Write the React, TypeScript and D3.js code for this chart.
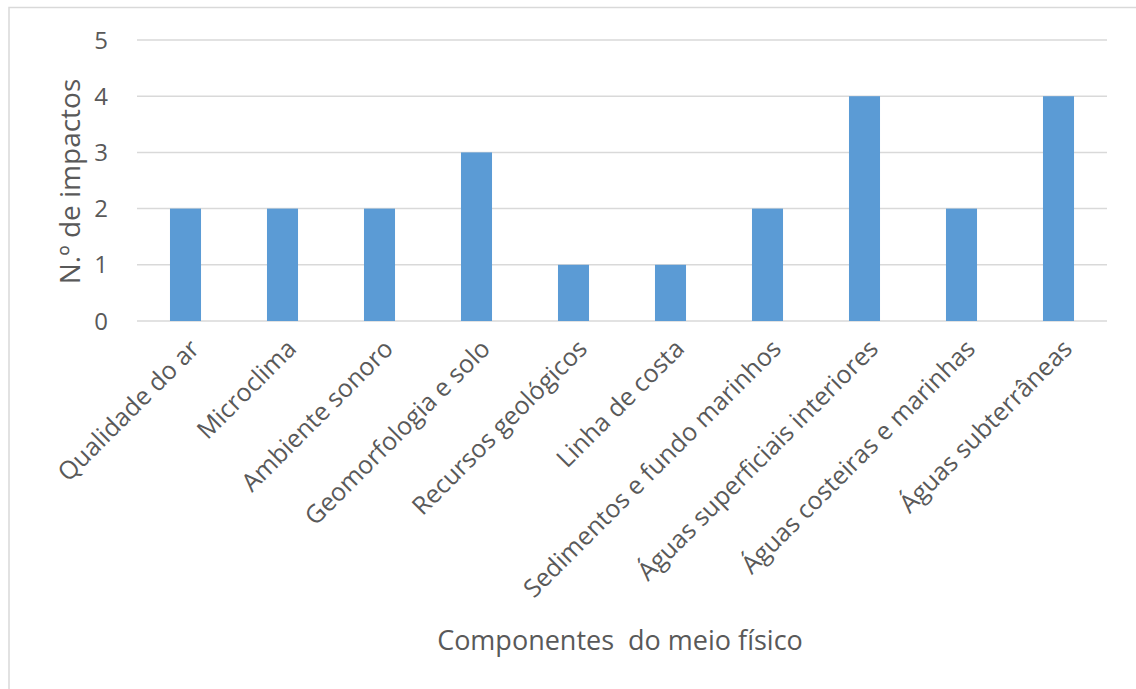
import React from "react";
import * as d3 from "d3";

const categories = [
  "Qualidade do ar",
  "Microclima",
  "Ambiente sonoro",
  "Geomorfologia e solo",
  "Recursos geológicos",
  "Linha de costa",
  "Sedimentos e fundo marinhos",
  "Águas superficiais interiores",
  "Águas costeiras e marinhas",
  "Águas subterrâneas",
];
const values = [2, 2, 2, 3, 1, 1, 2, 4, 2, 4];
const yTicks = [0, 1, 2, 3, 4, 5];
const yTitle = "N.º de impactos";
const xTitle = "Componentes  do meio físico";

const W = 1136;
const H = 689;
const left = 137;
const right = 1107;
const top = 40;
const bottom = 321;
const font = "'Open Sans', sans-serif";
const textColor = "#595959";

export default function App() {
  const x = d3.scaleBand<string>().domain(categories).range([left, right]).paddingInner(0).paddingOuter(0);
  const y = d3.scaleLinear().domain([0, 5]).range([bottom, top]);
  const bw = x.bandwidth() * 0.32;
  return (
    <svg width={W} height={H} style={{ position: "absolute", left: 0, top: 0 }}>
      <rect x={0} y={0} width={W} height={H} fill="#fff" />
      <rect x={9} y={7.5} width={W + 10} height={H + 10} fill="none" stroke="#D9D9D9" strokeWidth={1.5} />
      {yTicks.map((t) => (
        <g key={t}>
          <line x1={left} x2={right} y1={y(t)} y2={y(t)} stroke="#D9D9D9" strokeWidth={1.5} />
          <text x={108} y={y(t)} dy="0.36em" textAnchor="end" fontFamily={font} fontSize={24} fill={textColor}>
            {t}
          </text>
        </g>
      ))}
      {categories.map((c, i) => (
        <rect
          key={c}
          x={x(c)! + x.bandwidth() / 2 - bw / 2}
          y={y(values[i])}
          width={bw}
          height={y(0) - y(values[i])}
          fill="#5B9BD5"
        />
      ))}
      {categories.map((c) => {
        const cx = x(c)! + x.bandwidth() / 2;
        return (
          <text
            key={c}
            transform={`translate(${cx + 2},${337}) rotate(-45)`}
            textAnchor="end"
            dy="0.75em"
            fontFamily={font}
            fontSize={25}
            fill={textColor}
          >
            {c}
          </text>
        );
      })}
      <text
        transform={`translate(70,${(top + bottom) / 2 + 1}) rotate(-90)`}
        textAnchor="middle"
        dy="0.36em"
        fontFamily={font}
        fontSize={28}
        fill={textColor}
      >
        {yTitle}
      </text>
      <text x={620} y={640} dy="0.36em" textAnchor="middle" fontFamily={font} fontSize={27} fill={textColor} style={{ whiteSpace: "pre" }}>
        {xTitle}
      </text>
    </svg>
  );
}
